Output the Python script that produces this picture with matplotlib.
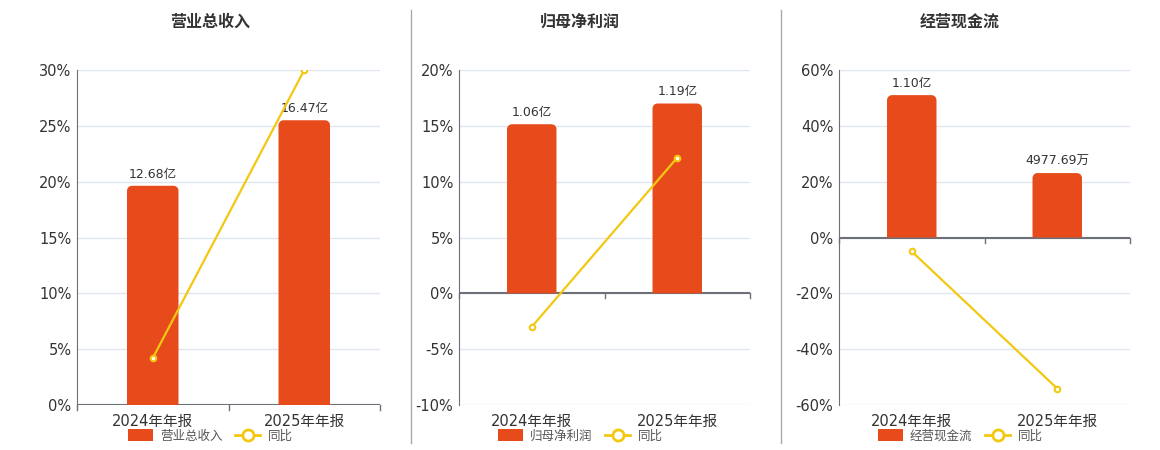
import numpy as np
import matplotlib
matplotlib.use("Agg")
import matplotlib.pyplot as plt
from matplotlib.patches import Polygon, Patch, FancyBboxPatch
from matplotlib.lines import Line2D
from matplotlib.ticker import FuncFormatter

plt.rcParams['font.family'] = ['DejaVu Sans', 'Noto Sans CJK SC']

# data
periods = ['2024年年报', '2025年年报']
titles = ['营业总收入', '归母净利润', '经营现金流']
bar_values = [[12.68, 16.47], [1.06, 1.19], [1.10, 0.497769]]
bar_labels = [['12.68亿', '16.47亿'], ['1.06亿', '1.19亿'], ['1.10亿', '4977.69万']]
yoy_values = [[4.2, 30.0], [-3.0, 12.15], [-5.0, -54.1]]
y_ranges = [(0, 30, 5), (-10, 20, 5), (-60, 60, 20)]

BAR = '#E84B1B'
LINE = '#F2C811'
TXT = '#333333'
AXC = '#6E7079'
GRID = '#E0E6F1'

W, H = 1160, 450
fig = plt.figure(figsize=(W / 100, H / 100), dpi=100)

# axes boxes in pixels: left, right
boxes = [(77, 380), (459, 750), (839, 1130)]
top_px, bot_px = 70, 405
panel_cx = [210, 580, 960]


def round_top_bar(ax, x0, w, h, rx, ry):
    # bar with rounded top corners, square bottom
    t = np.linspace(0, np.pi / 2, 10)
    right = [(x0 + w - rx + rx * np.cos(a), h - ry + ry * np.sin(a)) for a in t]
    left = [(x0 + rx - rx * np.sin(a), h - ry + ry * np.cos(a)) for a in t]
    pts = [(x0, 0), (x0 + w, 0)] + right + left
    ax.add_patch(Polygon(pts, closed=True, fc=BAR, ec='none', zorder=2))


for i in range(3):
    l, r = boxes[i]
    ax = fig.add_axes([l / W, (H - bot_px) / H, (r - l) / W, (bot_px - top_px) / H])
    lo, hi, step = y_ranges[i]
    ax.set_ylim(lo, hi)
    ax.set_xlim(-0.5, 1.5)
    ax.set_yticks(np.arange(lo, hi + 0.1, step))
    ax.yaxis.set_major_formatter(FuncFormatter(lambda v, p: f'{v:.0f}%'))
    ax.grid(axis='y', color=GRID, lw=1)
    ax.set_axisbelow(True)
    for s in ['top', 'right', 'bottom']:
        ax.spines[s].set_visible(False)
    ax.spines['left'].set_color(AXC)
    ax.tick_params(axis='y', length=0, labelsize=10.5, labelcolor=TXT, pad=4)
    ax.set_xticks([])
    # zero axis line with ticks at category boundaries
    ax.axhline(0, color=AXC, lw=1.5, zorder=3)
    tick_len = (hi - lo) / (bot_px - top_px) * 5
    for bx in [-0.5, 0.5, 1.5]:
        ax.plot([bx, bx], [0, -tick_len], color=AXC, lw=1, zorder=3, clip_on=False)
    for k, p in enumerate(periods):
        ax.text(k, lo - (hi - lo) * 0.028, p, ha='center', va='top', fontsize=10.5, color=TXT)

    # bars on a twin axis scaled so the largest bar reaches 85% of the top
    bx_ax = ax.twinx()
    btop = max(bar_values[i]) / 0.85
    bx_ax.set_ylim(lo / hi * btop, btop)
    bx_ax.set_xlim(-0.5, 1.5)
    bx_ax.axis('off')
    xdpp = 2.0 / (r - l)
    ydpp = (btop - lo / hi * btop) / (bot_px - top_px)
    bw = 0.34
    for k, v in enumerate(bar_values[i]):
        round_top_bar(bx_ax, k - bw / 2, bw, v, 5 * xdpp, 5 * ydpp)
        bx_ax.text(k, v + ydpp * 5, bar_labels[i][k], ha='center', va='bottom',
                   fontsize=9, color=TXT)

    # yoy line on top
    ln_ax = ax.twinx()
    ln_ax.set_ylim(lo, hi)
    ln_ax.set_xlim(-0.5, 1.5)
    ln_ax.axis('off')
    ln_ax.plot([0, 1], yoy_values[i], color=LINE, lw=1.6, marker='o', ms=4,
               mfc='white', mec=LINE, mew=1.5, zorder=4)

    fig.text(panel_cx[i] / W, 1 - 22 / H, titles[i], ha='center', va='center',
             fontsize=11.5, fontweight='bold', color=TXT)

    handles = [Patch(fc=BAR, ec='none'),
               Line2D([], [], color=LINE, lw=2, marker='o', ms=8, mfc='white', mec=LINE, mew=2)]
    fig.legend(handles, [titles[i], '同比'], loc='center', ncol=2, frameon=False,
               bbox_to_anchor=(panel_cx[i] / W, 1 - 436 / H), fontsize=9,
               labelcolor='#555555', handlelength=2.0, handleheight=1.1,
               columnspacing=1.0, handletextpad=0.6)

# separators between panels
for sx in [411, 781]:
    fig.add_artist(Line2D([sx / W, sx / W], [1 - 10 / H, 1 - 443 / H], color='#AAAAAA', lw=1))

fig.savefig('out.png', dpi=100)
